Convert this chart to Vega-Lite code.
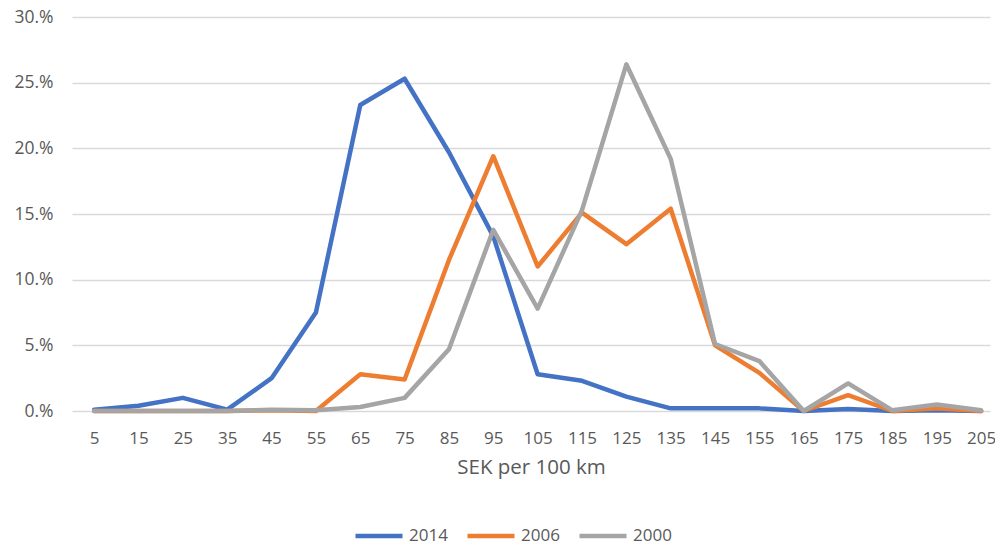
{
  "$schema": "https://vega.github.io/schema/vega-lite/v6.json",
  "autosize": {"type": "none"},
  "padding": {"left": 72, "top": 17, "right": 5, "bottom": 134},
  "width": 918,
  "height": 394,
  "background": "white",
  "config": {
    "view": {"stroke": null},
    "font": "Open Sans",
    "axis": {"labelColor": "#595959", "titleColor": "#595959", "labelFont": "Open Sans", "titleFont": "Open Sans"}
  },
  "data": {
    "values": [
      {"km": 5, "year": "2014", "share": 0.001},
      {"km": 15, "year": "2014", "share": 0.004},
      {"km": 25, "year": "2014", "share": 0.010},
      {"km": 35, "year": "2014", "share": 0.001},
      {"km": 45, "year": "2014", "share": 0.025},
      {"km": 55, "year": "2014", "share": 0.075},
      {"km": 65, "year": "2014", "share": 0.233},
      {"km": 75, "year": "2014", "share": 0.253},
      {"km": 85, "year": "2014", "share": 0.197},
      {"km": 95, "year": "2014", "share": 0.133},
      {"km": 105, "year": "2014", "share": 0.028},
      {"km": 115, "year": "2014", "share": 0.023},
      {"km": 125, "year": "2014", "share": 0.011},
      {"km": 135, "year": "2014", "share": 0.002},
      {"km": 145, "year": "2014", "share": 0.002},
      {"km": 155, "year": "2014", "share": 0.002},
      {"km": 165, "year": "2014", "share": 0.0},
      {"km": 175, "year": "2014", "share": 0.0015},
      {"km": 185, "year": "2014", "share": 0.0},
      {"km": 195, "year": "2014", "share": 0.0005},
      {"km": 205, "year": "2014", "share": 0.0},
      {"km": 5, "year": "2006", "share": 0.0},
      {"km": 15, "year": "2006", "share": 0.0},
      {"km": 25, "year": "2006", "share": 0.0},
      {"km": 35, "year": "2006", "share": 0.0},
      {"km": 45, "year": "2006", "share": 0.0005},
      {"km": 55, "year": "2006", "share": 0.0},
      {"km": 65, "year": "2006", "share": 0.028},
      {"km": 75, "year": "2006", "share": 0.024},
      {"km": 85, "year": "2006", "share": 0.115},
      {"km": 95, "year": "2006", "share": 0.194},
      {"km": 105, "year": "2006", "share": 0.110},
      {"km": 115, "year": "2006", "share": 0.151},
      {"km": 125, "year": "2006", "share": 0.127},
      {"km": 135, "year": "2006", "share": 0.154},
      {"km": 145, "year": "2006", "share": 0.050},
      {"km": 155, "year": "2006", "share": 0.029},
      {"km": 165, "year": "2006", "share": 0.0},
      {"km": 175, "year": "2006", "share": 0.012},
      {"km": 185, "year": "2006", "share": 0.0},
      {"km": 195, "year": "2006", "share": 0.002},
      {"km": 205, "year": "2006", "share": 0.0},
      {"km": 5, "year": "2000", "share": 0.0},
      {"km": 15, "year": "2000", "share": 0.0},
      {"km": 25, "year": "2000", "share": 0.0},
      {"km": 35, "year": "2000", "share": 0.0},
      {"km": 45, "year": "2000", "share": 0.001},
      {"km": 55, "year": "2000", "share": 0.0005},
      {"km": 65, "year": "2000", "share": 0.003},
      {"km": 75, "year": "2000", "share": 0.010},
      {"km": 85, "year": "2000", "share": 0.047},
      {"km": 95, "year": "2000", "share": 0.138},
      {"km": 105, "year": "2000", "share": 0.078},
      {"km": 115, "year": "2000", "share": 0.153},
      {"km": 125, "year": "2000", "share": 0.264},
      {"km": 135, "year": "2000", "share": 0.192},
      {"km": 145, "year": "2000", "share": 0.051},
      {"km": 155, "year": "2000", "share": 0.038},
      {"km": 165, "year": "2000", "share": 0.0},
      {"km": 175, "year": "2000", "share": 0.021},
      {"km": 185, "year": "2000", "share": 0.0005},
      {"km": 195, "year": "2000", "share": 0.005},
      {"km": 205, "year": "2000", "share": 0.0005}
    ]
  },
  "mark": {"type": "line", "strokeWidth": 4.5, "strokeCap": "round", "strokeJoin": "round"},
  "encoding": {
    "x": {
      "field": "km",
      "type": "quantitative",
      "scale": {"domain": [0, 207], "nice": false, "zero": false},
      "axis": {
        "title": "SEK per 100 km",
        "values": [5, 15, 25, 35, 45, 55, 65, 75, 85, 95, 105, 115, 125, 135, 145, 155, 165, 175, 185, 195, 205],
        "grid": false,
        "ticks": false,
        "domain": false,
        "labelFontSize": 17,
        "labelPadding": 19,
        "labelFlush": false,
        "labelOverlap": false,
        "titleFontSize": 20.5,
        "titleFontWeight": "normal",
        "titlePadding": 11
      }
    },
    "y": {
      "field": "share",
      "type": "quantitative",
      "scale": {"domain": [0, 0.3], "nice": false},
      "axis": {
        "title": null,
        "values": [0, 0.05, 0.1, 0.15, 0.2, 0.25, 0.3],
        "labelExpr": "replace(format(datum.value, '.0%'), '%', '.%')",
        "grid": true,
        "gridColor": "#D9D9D9",
        "gridWidth": 1.3,
        "ticks": false,
        "domain": false,
        "labelFontSize": 17.5,
        "labelPadding": 19
      }
    },
    "color": {
      "field": "year",
      "type": "nominal",
      "sort": ["2014", "2006", "2000"],
      "scale": {"domain": ["2014", "2006", "2000"], "range": ["#4472C4", "#ED7D31", "#A5A5A5"]},
      "legend": {
        "title": null,
        "orient": "none",
        "direction": "horizontal",
        "legendX": 281,
        "legendY": 493,
        "symbolType": "stroke",
        "symbolSize": 2209,
        "symbolStrokeWidth": 4.5,
        "labelOffset": 4,
        "columnPadding": 10,
        "labelFontSize": 17,
        "labelColor": "#595959",
        "labelFont": "Open Sans"
      }
    }
  }
}
